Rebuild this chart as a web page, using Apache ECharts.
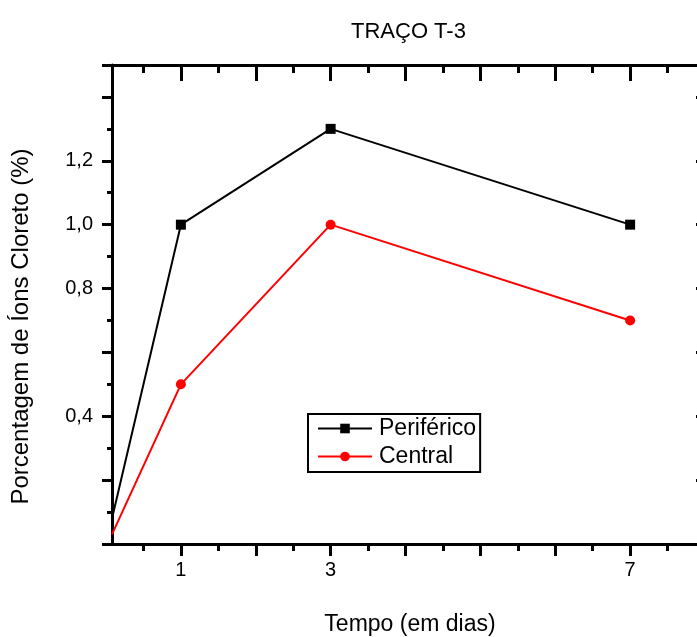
<!DOCTYPE html>
<html>
<head>
<meta charset="utf-8">
<script src="https://cdn.jsdelivr.net/npm/echarts@6/dist/echarts.min.js"></script>
<style>
html,body{margin:0;padding:0;background:#fff;}
#chart{width:697px;height:637px;}
</style>
</head>
<body>
<div id="chart"></div>
<script>
// Data
const xValues = [0.08, 1, 3, 7];
const periferico = [0.08, 1.0, 1.3, 1.0];
const central = [0.03, 0.5, 1.0, 0.7];
const xTickMajor = [1, 2, 3, 4, 5, 6, 7];
const xTickMinor = [0.5, 1.5, 2.5, 3.5, 4.5, 5.5, 6.5, 7.5];
const xLabels = [1, 3, 7];
const yLabels = [0.4, 0.8, 1.0, 1.2];
const seriesNames = ['Periférico', 'Central'];
const titleText = 'TRAÇO T-3';
const xName = 'Tempo (em dias)';
const yName = 'Porcentagem de Íons Cloreto (%)';

const FONT = '"Liberation Sans", Arial, sans-serif';
const XMIN = 0.08, XMAX = 7.96, YMIN = 0, YMAX = 1.5;

function pts(ys) {
  return ys.map((y, i) => i === 0 ? { value: [xValues[i], y], symbol: 'none' } : [xValues[i], y]);
}

const chart = echarts.init(document.getElementById('chart'), null, { renderer: 'canvas' });

const baseX = {
  type: 'value', min: XMIN, max: XMAX, splitLine: { show: false }
};

chart.setOption({
  animation: false,
  backgroundColor: '#fff',
  textStyle: { fontFamily: FONT },
  title: {
    text: titleText, left: 346, top: 16,
    textStyle: { fontFamily: FONT, fontSize: 22, fontWeight: 'normal', color: '#000' }
  },
  grid: { left: 112, top: 65, width: 590, height: 479, containLabel: false, outerBoundsMode: 'none' },
  legend: {
    left: 308, top: 414, orient: 'vertical',
    data: seriesNames,
    borderColor: '#000', borderWidth: 2,
    padding: [3, 4, 4, 9],
    itemWidth: 54, itemHeight: 12, itemGap: 5,
    textStyle: { fontFamily: FONT, fontSize: 23, color: '#000', lineHeight: 22, padding: [0, 0, 0, 2] }
  },
  xAxis: [
    Object.assign({}, baseX, {
      position: 'bottom',
      name: xName, nameLocation: 'middle', nameGap: 69,
      nameTextStyle: { fontFamily: FONT, fontSize: 23, color: '#000', padding: [0, 0, 0, 6] },
      axisLine: { show: true, lineStyle: { color: '#000', width: 3 } },
      axisTick: { show: true, inside: false, length: 12, customValues: xTickMajor, lineStyle: { color: '#000', width: 3 } },
      axisLabel: { show: true, customValues: xLabels, margin: 16, fontFamily: FONT, fontSize: 20, color: '#000' }
    }),
    Object.assign({}, baseX, {
      position: 'bottom',
      axisLine: { show: false },
      axisTick: { show: true, inside: false, length: 7, customValues: xTickMinor, lineStyle: { color: '#000', width: 3 } },
      axisLabel: { show: false }
    }),
    Object.assign({}, baseX, {
      position: 'top',
      axisLine: { show: true, lineStyle: { color: '#000', width: 3 } },
      axisTick: { show: true, inside: true, length: 16, customValues: xTickMajor, lineStyle: { color: '#000', width: 3 } },
      axisLabel: { show: false }
    }),
    Object.assign({}, baseX, {
      position: 'top',
      axisLine: { show: false },
      axisTick: { show: true, inside: true, length: 8, customValues: xTickMinor, lineStyle: { color: '#000', width: 3 } },
      axisLabel: { show: false }
    })
  ],
  yAxis: [
    {
      type: 'value', position: 'left', min: YMIN, max: YMAX, interval: 0.2,
      name: yName, nameLocation: 'middle', nameGap: 79, nameRotate: 90,
      nameTextStyle: { fontFamily: FONT, fontSize: 24, color: '#000', padding: [0, 44, 0, 0] },
      splitLine: { show: false },
      axisLine: { show: true, lineStyle: { color: '#000', width: 3 } },
      axisTick: { show: true, inside: false, length: 10, lineStyle: { color: '#000', width: 3 } },
      minorTick: { show: true, splitNumber: 2, length: 5, lineStyle: { color: '#000', width: 3 } },
      axisLabel: {
        show: true, customValues: yLabels, margin: 19, fontFamily: FONT, fontSize: 20, color: '#000',
        formatter: v => v.toFixed(1).replace('.', ',')
      }
    },
    {
      type: 'value', position: 'right', min: YMIN, max: YMAX, interval: 0.2,
      splitLine: { show: false },
      axisLine: { show: true, lineStyle: { color: '#000', width: 3 } },
      axisTick: { show: true, inside: true, length: 6, lineStyle: { color: '#000', width: 3 } },
      axisLabel: { show: false }
    }
  ],
  series: [
    {
      name: seriesNames[0], type: 'line', xAxisIndex: 0, yAxisIndex: 0,
      data: pts(periferico),
      symbol: 'rect', symbolSize: 10,
      lineStyle: { color: '#000', width: 2 },
      itemStyle: { color: '#000' },
      clip: false
    },
    {
      name: seriesNames[1], type: 'line', xAxisIndex: 0, yAxisIndex: 0,
      data: pts(central),
      symbol: 'circle', symbolSize: 10,
      lineStyle: { color: '#ff0000', width: 2 },
      itemStyle: { color: '#ff0000' },
      clip: false
    }
  ]
});
</script>
</body>
</html>
